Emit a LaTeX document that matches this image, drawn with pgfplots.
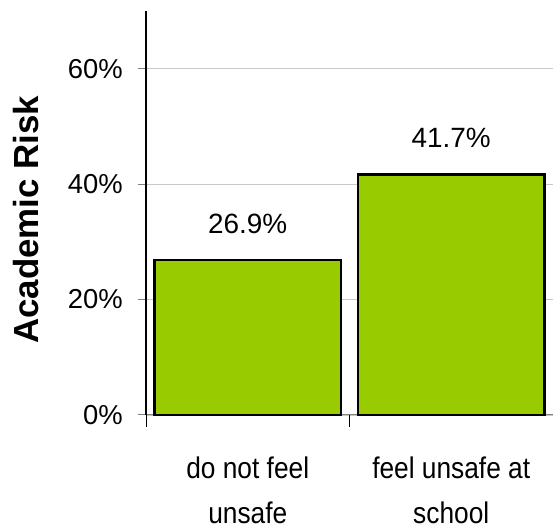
\documentclass[border=0pt]{standalone}
\usepackage{fontspec}
\setmainfont{Liberation Sans}
\newfontfamily\narrowfont{Liberation Sans}[FakeStretch=0.88]
\usepackage{pgfplots}
\pgfplotsset{compat=1.18}
\definecolor{barfill}{HTML}{99CC00}
\definecolor{gridgray}{HTML}{C8C8C8}
\definecolor{tickgray}{HTML}{808080}
\begin{document}
\begin{tikzpicture}
\begin{axis}[
  width=407bp, height=404bp, scale only axis,
  xmin=-0.5, xmax=1.5, ymin=0, ymax=70,
  clip=false,
  axis x line*=bottom,
  axis y line*=left,
  x axis line style={tickgray, line width=1pt},
  y axis line style={black, line width=1.2pt},
  tick align=outside,
  major tick length=8bp,
  minor tick length=12bp,
  ytick={0,20,40,60},
  yticklabel={\pgfmathprintnumber{\tick}\%},
  yticklabel style={font=\fontsize{27.5}{32}\selectfont, inner sep=0pt, anchor=east, xshift=-15bp},
  ytick style={tickgray, line width=1pt},
  ymajorgrids,
  grid style={gridgray, line width=0.8pt},
  % category names on the major ticks, boundaries on the minor ones
  xtick={0,1},
  xticklabels={do not feel\\unsafe, feel unsafe at\\school},
  minor xtick={-0.5,0.5,1.5},
  major x tick style={draw=none},
  minor x tick style={black, line width=1pt},
  xticklabel style={font=\narrowfont\fontsize{30}{45}\selectfont, align=center, anchor=north, inner sep=0pt, yshift=-34bp},
  /pgf/number format/assume math mode=true,
  ybar, bar width=0.918,
  nodes near coords={\pgfmathprintnumber[fixed, fixed zerofill, precision=1]{\pgfplotspointmeta}\%},
  every node near coord/.append style={font=\fontsize{28}{32}\selectfont, anchor=base, inner sep=0pt, yshift=26.5bp, black},
]
\addplot[fill=barfill, draw=black, line width=2.4pt] coordinates {(0,26.9) (1,41.7)};
\coordinate (LL) at (rel axis cs:0,0);
\coordinate (UR) at (rel axis cs:1,1);
\node[rotate=90, anchor=base, inner sep=0pt, font=\bfseries\fontsize{35}{40}\selectfont]
  at ([xshift=-107bp]rel axis cs:0,0.483) {Academic Risk};
\end{axis}
\pgfresetboundingbox
\path[use as bounding box] ([shift={(-146bp,-114bp)}]LL) rectangle ([yshift=11bp]UR);
\end{tikzpicture}
\end{document}
